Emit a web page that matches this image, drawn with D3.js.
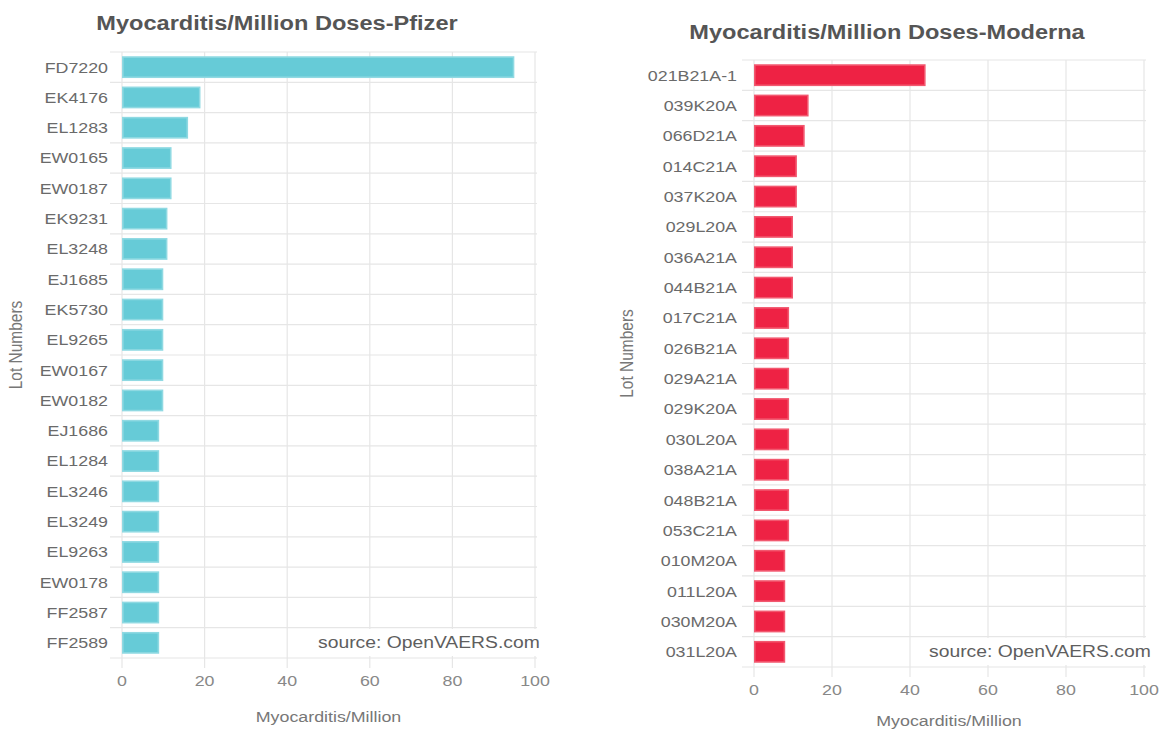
<!DOCTYPE html>
<html lang="en">
<head>
  <meta charset="utf-8" />
  <title>Myocarditis per Million Doses by Lot</title>
  <style>
    body {
      margin: 0;
      background: #ffffff;
    }
    svg {
      display: block;
    }
    text {
      font-family: "Liberation Sans", Arial, sans-serif;
    }
  </style>
</head>
<body>
  <svg width="1161" height="732"></svg>

  <script src="https://d3js.org/d3.v7.min.js"></script>
  <script>
    // Pfizer lots
    const pfizerLots = ["FD7220", "EK4176", "EL1283", "EW0165", "EW0187", "EK9231", "EL3248",
      "EJ1685", "EK5730", "EL9265", "EW0167", "EW0182", "EJ1686", "EL1284", "EL3246",
      "EL3249", "EL9263", "EW0178", "FF2587", "FF2589"];
    const pfizerValues = [95, 19, 16, 12, 12, 11, 11, 10, 10, 10, 10, 10, 9, 9, 9, 9, 9, 9, 9, 9];

    // Moderna lots
    const modernaLots = ["021B21A-1", "039K20A", "066D21A", "014C21A", "037K20A", "029L20A",
      "036A21A", "044B21A", "017C21A", "026B21A", "029A21A", "029K20A", "030L20A", "038A21A",
      "048B21A", "053C21A", "010M20A", "011L20A", "030M20A", "031L20A"];
    const modernaValues = [44, 14, 13, 11, 11, 10, 10, 10, 9, 9, 9, 9, 9, 9, 9, 9, 8, 8, 8, 8];

    const xTicks = [0, 20, 40, 60, 80, 100];

    const SX = 1.15; // the picture is a bit wider than tall, so text is stretched
    const gridColor = "#e6e6e6";
    const textColor = "#6a6a6a";

    const svg = d3.select("svg");

    function stretched(sel, x, y) {
      return sel.attr("transform", `translate(${x},${y}) scale(${SX},1)`);
    }

    function drawChart(cfg) {
      const g = svg.append("g");

      const x = d3.scaleLinear().domain([0, 100]).range([cfg.left, cfg.right]);
      const y = d3.scaleBand().domain(cfg.lots).range([cfg.top, cfg.bottom])
        .paddingInner(0.28).paddingOuter(0.14);

      // vertical grid lines (with tick marks below)
      g.append("g").selectAll("line").data(xTicks).join("line")
        .attr("x1", d => x(d)).attr("x2", d => x(d))
        .attr("y1", cfg.top).attr("y2", cfg.bottom + 10)
        .attr("stroke", gridColor).attr("stroke-width", 1.2);

      // horizontal grid lines at band edges
      const step = y.step();
      const edges = d3.range(cfg.lots.length + 1).map(i => cfg.top + i * step);
      g.append("g").selectAll("line").data(edges).join("line")
        .attr("x1", cfg.left - 12).attr("x2", cfg.right + 2)
        .attr("y1", d => d).attr("y2", d => d)
        .attr("stroke", gridColor).attr("stroke-width", 1.2);

      // bars
      g.append("g").selectAll("rect").data(cfg.values).join("rect")
        .attr("x", x(0) + 0.8)
        .attr("y", (d, i) => y(cfg.lots[i]) + 0.8)
        .attr("width", d => x(d) - x(0) - 1.6)
        .attr("height", y.bandwidth() - 1.6)
        .attr("fill", cfg.fill)
        .attr("stroke", cfg.stroke)
        .attr("stroke-width", 1.6);

      // y tick labels
      g.append("g").selectAll("text").data(cfg.lots).join("text")
        .each(function (d) {
          stretched(d3.select(this), cfg.left - cfg.labelGap, y(d) + y.bandwidth() / 2);
        })
        .attr("text-anchor", "end")
        .attr("dy", "0.35em")
        .attr("font-size", 15.5)
        .attr("fill", textColor)
        .text(d => d);

      // x tick labels
      g.append("g").selectAll("text").data(xTicks).join("text")
        .each(function (d) {
          stretched(d3.select(this), x(d), cfg.bottom + 28);
        })
        .attr("text-anchor", "middle")
        .attr("font-size", 15.5)
        .attr("fill", "#888")
        .text(d => d);

      // axis titles
      stretched(g.append("text"), (cfg.left + cfg.right) / 2, cfg.bottom + cfg.xTitleGap)
        .attr("text-anchor", "middle")
        .attr("font-size", 15.5)
        .attr("fill", "#777")
        .text("Myocarditis/Million");

      g.append("text")
        .attr("transform", `translate(${cfg.yTitleX},${(cfg.top + cfg.bottom) / 2 - 10}) rotate(-90) scale(1,${SX})`)
        .attr("text-anchor", "middle")
        .attr("font-size", 15.5)
        .attr("fill", "#777")
        .text("Lot Numbers");

      // chart title
      stretched(g.append("text"), cfg.titleX, cfg.titleY)
        .attr("text-anchor", "middle")
        .attr("font-size", 20.5)
        .attr("font-weight", "bold")
        .attr("fill", "#555")
        .text(cfg.title);

      // source note with white box
      g.append("rect")
        .attr("x", cfg.srcX - 4).attr("y", cfg.bottom - 29)
        .attr("width", 232).attr("height", 27)
        .attr("fill", "#fff");
      stretched(g.append("text"), cfg.srcX, cfg.bottom - 10)
        .attr("font-family", "'Open Sans', sans-serif")
        .attr("font-size", 16.8)
        .attr("fill", "#5e5e5e")
        .text("source: OpenVAERS.com");
    }

    drawChart({
      title: "Myocarditis/Million Doses-Pfizer",
      lots: pfizerLots, values: pfizerValues,
      left: 122, right: 535, top: 52, bottom: 658,
      labelGap: 14, yTitleX: 22, titleX: 277, titleY: 30, srcX: 318, xTitleGap: 64,
      fill: "#66cbd7", stroke: "#8fd9e2"
    });

    drawChart({
      title: "Myocarditis/Million Doses-Moderna",
      lots: modernaLots, values: modernaValues,
      left: 754, right: 1144, top: 60, bottom: 667,
      labelGap: 17, yTitleX: 633, titleX: 887, titleY: 39, srcX: 929, xTitleGap: 59,
      fill: "#ee2244", stroke: "#f2586f"
    });
  </script>
</body>
</html>
